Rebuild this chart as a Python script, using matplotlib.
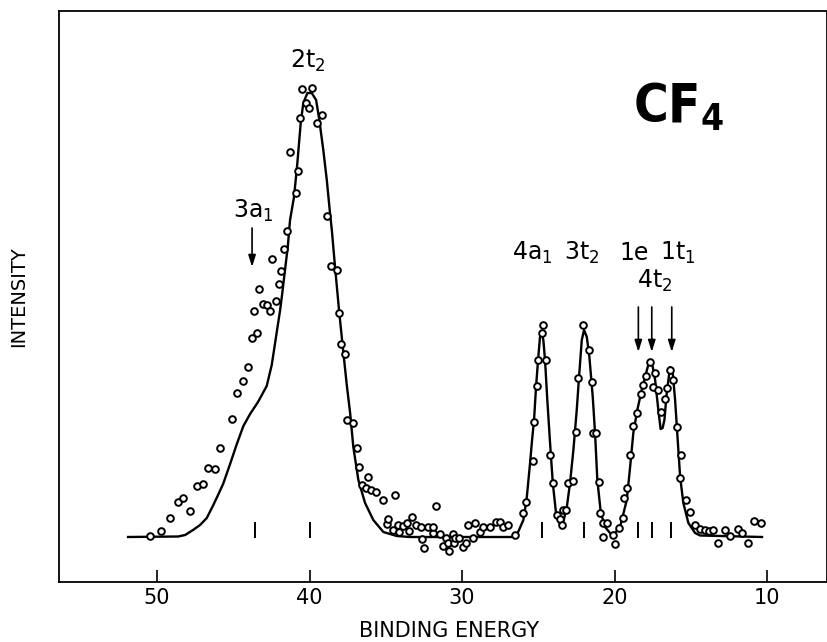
import matplotlib
matplotlib.use("Agg")
import matplotlib.pyplot as plt

plt.rcParams["mathtext.default"] = "regular"

# observed intensities (open circles)
be_obs = [50.46, 49.76, 49.15, 48.64, 48.31, 47.82, 47.40, 46.98, 46.64, 46.20,
          45.89, 45.10, 44.77, 44.36, 44.01, 43.80, 43.64, 43.42, 43.31, 43.07,
          42.77, 42.59, 42.45, 42.20, 41.99, 41.85, 41.66, 41.48, 41.26, 40.89,
          40.77, 40.62, 40.49, 40.21, 40.01, 39.84, 39.53, 39.20, 38.84, 38.59,
          38.22, 38.05, 37.95, 37.67, 37.54, 37.18, 36.90, 36.73, 36.54, 36.30,
          36.18, 35.97, 35.64, 35.21, 34.89, 34.83, 34.50, 34.39, 34.22, 34.11,
          33.85, 33.59, 33.48, 33.30, 33.02, 32.71, 32.60, 32.47, 32.21, 31.92,
          31.88, 31.72, 31.42, 31.27, 31.03, 30.90, 30.83, 30.59, 30.54, 30.49,
          30.23, 29.93, 29.77, 29.61, 29.26, 29.15, 28.84, 28.62, 28.16, 27.80,
          27.48, 27.31, 26.98, 26.52, 26.02, 25.82, 25.36, 25.26, 25.10, 25.00,
          24.77, 24.71, 24.51, 24.23, 24.05, 23.78, 23.61, 23.46, 23.40, 23.21,
          23.08, 22.74, 22.52, 22.37, 22.05, 21.67, 21.50, 21.43, 21.21, 21.00,
          20.98, 20.77, 20.73, 20.49, 20.08, 19.97, 19.70, 19.46, 19.38, 19.18,
          19.00, 18.81, 18.50, 18.26, 18.13, 17.93, 17.69, 17.48, 17.34, 17.13,
          16.93, 16.71, 16.58, 16.34, 16.16, 15.92, 15.72, 15.62, 15.31, 15.05,
          14.70, 14.41, 14.10, 13.82, 13.52, 13.21, 12.79, 12.41, 11.92, 11.66,
          11.23, 10.85, 10.43]
int_obs = [1, 6, 19, 35, 39, 26, 51, 53, 69, 68,
           89, 118, 144, 156, 170, 199, 226, 204, 248, 233,
           232, 226, 278, 236, 253, 266, 288, 306, 385, 344,
           366, 419, 448, 434, 429, 449, 414, 422, 321, 271,
           267, 224, 193, 183, 117, 114, 89, 70, 52, 49,
           60, 47, 45, 37, 13, 18, 7, 42, 12, 5,
           11, 14, 6, 20, 12, 10, -2, -11, 10, 4,
           10, 31, 3, -9, -1, -6, -14, 3, -6, -1,
           -1, -10, -6, 12, -1, 14, 5, 10, 10, 15,
           15, 10, 12, 2, 24, 35, 76, 115, 151, 177,
           204, 212, 177, 82, 54, 22, 18, 12, 27, 27,
           54, 56, 105, 159, 212, 187, 155, 104, 104, 55,
           24, 0, 14, 14, 2, -7, 9, 19, 39, 49,
           82, 111, 124, 143, 152, 161, 175, 150, 164, 147,
           125, 138, 149, 167, 157, 110, 59, 82, 37, 25,
           12, 8, 7, 6, 7, -6, 7, 1, 8, 4,
           -6, 16, 14]

# fitted curve (solid line)
be_fit = [51.90, 48.62, 48.16, 47.64, 47.18, 46.74, 46.31, 46.00, 45.67, 45.21,
          44.77, 44.34, 43.90, 43.38, 42.81, 42.48, 42.20, 41.93, 41.82, 41.61,
          41.43, 41.28, 41.02, 40.80, 40.58, 40.41, 40.14, 39.86, 39.57, 39.36,
          39.10, 38.87, 38.66, 38.54, 38.33, 38.05, 37.78, 37.56, 37.34, 37.13,
          36.80, 36.36, 35.82, 35.16, 34.28, 33.41, 26.72, 26.41, 25.98, 25.76,
          25.54, 25.41, 25.28, 25.15, 25.00, 24.89, 24.77, 24.67, 24.56, 24.41,
          24.23, 24.05, 23.84, 23.57, 23.36, 23.13, 22.92, 22.70, 22.48, 22.33,
          22.15, 22.00, 21.82, 21.65, 21.43, 21.28, 21.13, 20.90, 20.62, 20.30,
          20.08, 19.64, 19.20, 18.98, 18.77, 18.51, 18.22, 17.93, 17.72, 17.52,
          17.34, 17.13, 16.98, 16.85, 16.73, 16.58, 16.36, 16.19, 16.03, 15.86,
          15.70, 15.49, 15.16, 14.72, 14.39, 10.33]
int_fit = [0, 0.5, 2, 7, 12, 19, 32, 42, 53, 73,
           93, 111, 123, 135, 151, 172, 200, 227, 240, 267,
           290, 317, 340, 374, 414, 434, 444, 444, 437, 417,
           387, 357, 324, 307, 270, 224, 184, 152, 124, 90,
           57, 34, 17, 5, 1, 0, 0, 2, 17, 39,
           74, 97, 117, 150, 180, 200, 204, 197, 177, 137,
           94, 54, 24, 12, 15, 30, 54, 87, 127, 160,
           197, 207, 200, 180, 140, 104, 57, 24, 10, 4,
           2, 10, 37, 70, 104, 127, 147, 164, 176, 172,
           157, 127, 108, 109, 117, 144, 170, 165, 137, 97,
           60, 34, 14, 4, 1.5, 0]

# component positions (short bars) and annotations
component_be = [43.57, 39.97, 24.73, 21.98, 18.44, 17.56, 16.31]
arrow_3a1_be = 43.77
arrow_group_be = [18.44, 17.56, 16.25]
x_ticks = [50, 40, 30, 20, 10]

fig = plt.figure(figsize=(8.28, 6.42), dpi=100)
ax = fig.add_axes([59 / 828, 1 - 582 / 642, (827 - 59) / 828, (582 - 11) / 642])

ax.plot(be_fit, int_fit, color="black", lw=1.7, solid_joinstyle="round")
ax.plot(be_obs, int_obs, linestyle="none", marker="o", ms=4.8,
        mfc="white", mec="black", mew=1.4)

ax.vlines(component_be, -1, 15, color="black", lw=1.4)

ax.set_xlim(56.43, 6.07)
ax.set_ylim(-45, 526)
ax.set_xticks(x_ticks)
ax.set_xticklabels([str(t) for t in x_ticks])
ax.set_yticks([])
ax.tick_params(axis="x", direction="in", length=9, width=1.2, pad=4,
               labelsize=15)
for s in ax.spines.values():
    s.set_linewidth(1.3)

txt = dict(color="black", fontsize=17)
ax.text(40.10, 469, r"2t$_2$", ha="center", va="baseline", **txt)
ax.text(43.70, 319, r"3a$_1$", ha="center", va="baseline", **txt)
ax.text(25.41, 277, r"4a$_1$", ha="center", va="baseline", **txt)
ax.text(22.13, 277, r"3t$_2$", ha="center", va="baseline", **txt)
ax.text(18.69, 277, "1e", ha="center", va="baseline", **txt)
ax.text(15.84, 277, r"1t$_1$", ha="center", va="baseline", **txt)
ax.text(17.34, 249, r"4t$_2$", ha="center", va="baseline", **txt)
ax.text(15.80, 415, r"CF$_4$", ha="center", va="baseline", fontsize=38,
        fontweight="bold", fontstretch="condensed", color="black")

arrow = dict(arrowstyle="-|>,head_length=0.7,head_width=0.22", color="black",
             lw=1.2, shrinkA=0, shrinkB=0)
ax.annotate("", xy=(arrow_3a1_be, 270), xytext=(arrow_3a1_be, 309),
            arrowprops=arrow)
for b in arrow_group_be:
    ax.annotate("", xy=(b, 185), xytext=(b, 230), arrowprops=arrow)

fig.text(449 / 828, 1 - 631 / 642, "BINDING ENERGY", ha="center", va="center",
         fontsize=15)
fig.text(19 / 828, 1 - 297 / 642, "INTENSITY", ha="center", va="center",
         rotation=90, fontsize=14)

fig.savefig("out.png", dpi=100)
